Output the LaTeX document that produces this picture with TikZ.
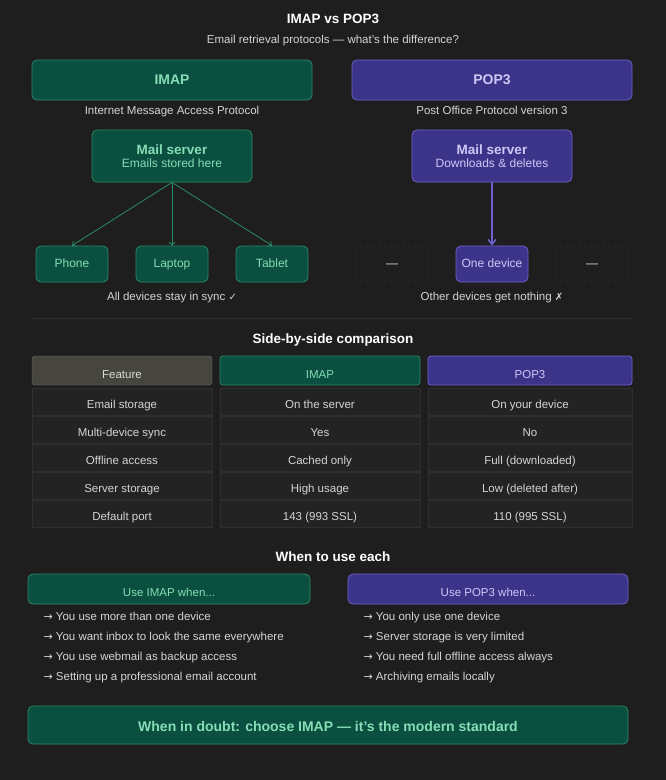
\documentclass[tikz,border=0pt]{standalone}
\usepackage{fontspec}
\setmainfont{Liberation Sans}
\newfontfamily\symf{DejaVu Sans}
\usetikzlibrary{arrows.meta}
\definecolor{bg}{HTML}{1E1E1E}
\definecolor{gfill}{HTML}{0A4F40}
\definecolor{gline}{HTML}{2A8A6A}
\definecolor{gtext}{HTML}{86DDB6}
\definecolor{pfill}{HTML}{3B3489}
\definecolor{pline}{HTML}{6F62D0}
\definecolor{ptext}{HTML}{CEC8F7}
\definecolor{txt}{HTML}{D4D4D4}
\definecolor{cellf}{HTML}{232323}
\definecolor{celll}{HTML}{2F2F2F}
\definecolor{ffill}{HTML}{46463F}
\definecolor{fline}{HTML}{6E6E68}
\newcommand{\fz}[1]{\fontsize{#1}{#1}\selectfont}
\newcommand{\arr}{{\symf\fz{11}→}}
\tikzset{
 fs/.style={font=\fz{#1},text height=8.5,text depth=2.5},
 fb/.style={font={\fz{#1}\bfseries},text height=9.5,text depth=2.5},
 gbox/.style={draw=gline,fill=gfill,rounded corners=5,text=gtext,line width=0.8},
 pbox/.style={draw=pline,fill=pfill,rounded corners=5,text=ptext,line width=0.8},
 dbox/.style={draw=celll,dashed,rounded corners=5,text=txt,line width=0.8},
 lbl/.style={text=txt,fs=11.5},
 hd/.style={text=white,fb=13.5},
 bl/.style={text=txt,fs=11.5,anchor=west},
}
\begin{document}
\begin{tikzpicture}[x=1pt,y=-1pt]
\fill[bg] (0,0) rectangle (666,780);
\useasboundingbox (0,0) rectangle (666,780);
\node[hd] (t) at (333,20) {IMAP vs POP3};
\node[lbl] (st) at (333,40) {Email retrieval protocols — what's the difference?};
% headers
\draw[gbox] (32,60) rectangle (312,100); \node[text=gtext,fb=14] (imap) at (172,81) {IMAP};
\draw[pbox] (352,60) rectangle (632,100); \node[text=ptext,fb=14] (pop) at (492,81) {POP3};
\node[lbl] (imapd) at (172,111) {Internet Message Access Protocol};
\node[lbl] (popd) at (492,111) {Post Office Protocol version 3};
% servers
\node[gbox,minimum width=160,minimum height=52,align=center] (ms1) at (172,156) {{\fz{13.5}\bfseries Mail server}\\[1pt]{\fz{12}Emails stored here}};
\node[pbox,minimum width=160,minimum height=52,align=center] (ms2) at (492,156) {{\fz{13.5}\bfseries Mail server}\\[1pt]{\fz{12}Downloads \& deletes}};
% devices
\tikzset{dev/.style={minimum width=72,minimum height=36,fs=12}}
\node[gbox,dev] (ph) at (72,264) {Phone};
\node[gbox,dev] (lp) at (172,264) {Laptop};
\node[gbox,dev] (tb) at (272,264) {Tablet};
\node[dbox,dev] (d1) at (392,264) {—};
\node[pbox,dev] (od) at (492,264) {One device};
\node[dbox,dev] (d2) at (592,264) {—};
\foreach \d in {ph,lp,tb} \draw[gline,line width=0.8,-{Straight Barb[length=3pt]}] (ms1.south) -- (\d.north);
\draw[pline,line width=1.5,-{Straight Barb[length=5pt,width=8pt]}] (ms2.south) -- (od.north);
\node[lbl] (c1) at (172,297) {All devices stay in sync {\symf\fz{10}✓}};
\node[lbl] (c2) at (492,297) {Other devices get nothing {\symf\fz{10}✗}};
\draw[celll,line width=0.8] (32,318) -- (632,318);
% table
\node[hd] (h2) at (333,340) {Side-by-side comparison};
\draw[draw=fline,fill=ffill,rounded corners=3] (32,356) rectangle (212,385);
\node[text=txt!85,fs=11.5] (fh) at (122,375) {Feature};
\draw[gbox,rounded corners=3] (220,356) rectangle (420,385);
\node[text=gtext,fs=11.5] (ih) at (320,375) {IMAP};
\draw[pbox,rounded corners=3] (428,356) rectangle (632,385);
\node[text=ptext,fs=11.5] (ph2) at (530,375) {POP3};
\foreach \i/\a/\b/\c in {0/Email storage/On the server/On your device,1/Multi-device sync/Yes/No,2/Offline access/Cached only/Full (downloaded),3/Server storage/High usage/Low (deleted after),4/Default port/143 (993 SSL)/110 (995 SSL)}{
 \pgfmathsetmacro\yy{388+28*\i}
 \draw[celll,fill=cellf] (32,\yy) rectangle (212,\yy+27);
 \draw[celll,fill=cellf] (220,\yy) rectangle (420,\yy+27);
 \draw[celll,fill=cellf] (428,\yy) rectangle (632,\yy+27);
 \node[lbl] (ca\i) at (122,\yy+17) {\a};
 \node[lbl] (cb\i) at (320,\yy+17) {\b};
 \node[lbl] (cc\i) at (530,\yy+17) {\c};
}
% when
\node[hd] (h3) at (333,558) {When to use each};
\draw[gbox] (28,574) rectangle (310,604); \node[text=gtext,fs=11.5] (ui) at (169,593) {Use IMAP when...};
\draw[pbox] (348,574) rectangle (628,604); \node[text=ptext,fs=11.5] (up) at (488,593) {Use POP3 when...};
\foreach \i/\t in {0/You use more than one device,1/You want inbox to look the same everywhere,2/You use webmail as backup access,3/Setting up a professional email account}
 \node[bl] (li\i) at (40,617+20*\i) {\arr\ \t};
\foreach \i/\t in {0/You only use one device,1/Server storage is very limited,2/You need full offline access always,3/Archiving emails locally}
 \node[bl] (ri\i) at (360,617+20*\i) {\arr\ \t};
\draw[gbox] (28,706) rectangle (628,744);
\node[text=gtext,fb=14] (fin) at (328,728) {When in doubt: choose IMAP — it's the modern standard};
\end{tikzpicture}
\end{document}
